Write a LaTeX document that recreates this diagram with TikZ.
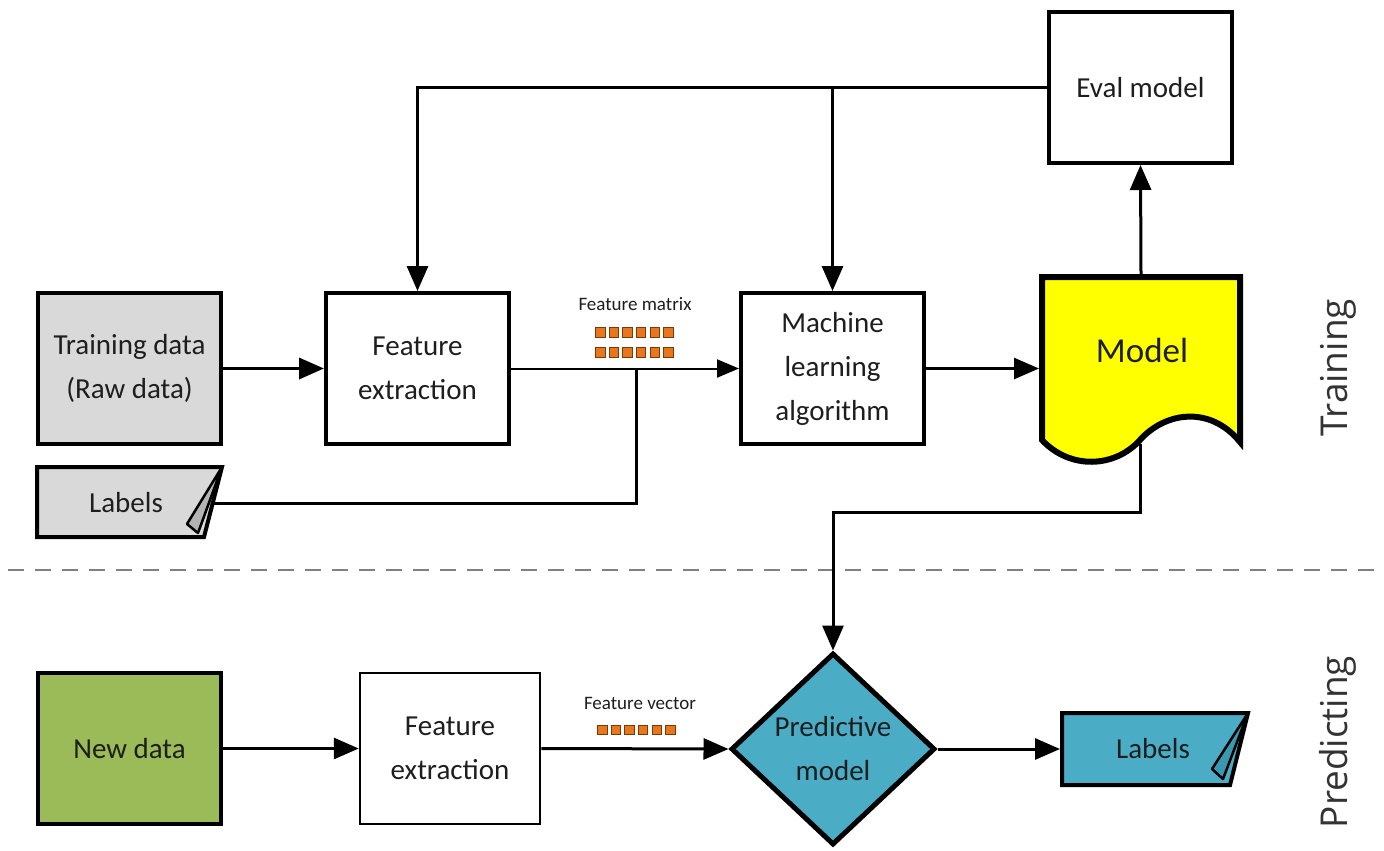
\documentclass[tikz,border=0pt]{standalone}
\usepackage{fontspec}
\setmainfont{Carlito}
\newfontfamily\sidefont{Open Sans}
\usetikzlibrary{arrows.meta,shapes.geometric}

\definecolor{txt}{HTML}{1E1E1E}
\definecolor{graybox}{HTML}{D9D9D9}
\definecolor{foldgray}{HTML}{B4B4B4}
\definecolor{greenbox}{HTML}{9BBB59}
\definecolor{bluebox}{HTML}{4BACC6}
\definecolor{foldblue}{HTML}{3A98B2}
\definecolor{modelyellow}{HTML}{FFFF00}
\definecolor{cellfill}{HTML}{E8761C}
\definecolor{celledge}{HTML}{7A3A08}
\definecolor{sidegray}{HTML}{333333}

\begin{document}
\begin{tikzpicture}[x=1pt,y=-1pt,
  box/.style={draw=black, line width=4pt, fill=white, minimum width=183pt,
    minimum height=151pt, inner sep=0pt, align=center,
    font=\fontsize{29}{44}\selectfont, text=txt},
  arr/.style={-{Triangle[length=25pt,width=21pt]}, line width=3pt},
  thinarr/.style={-{Triangle[length=22pt,width=18pt]}, line width=2pt},
  cell/.style={fill=cellfill, draw=celledge, line width=0.8pt},
  small/.style={font=\fontsize{19}{22}\selectfont, text=txt},
  side/.style={rotate=90, font=\sidefont\fontsize{37}{40}\selectfont, text=sidegray}]
\useasboundingbox (0,0) rectangle (1384,851);
\fill[white] (0,0) rectangle (1384,851);

% separator between training and predicting
\coordinate (sepL) at (8,570);
\coordinate (sepR) at (1384,570);
\draw[gray, line width=2pt, dash pattern=on 16pt off 11pt] (sepL) -- (sepR);

% ---- training row ----
\node[box, fill=graybox] (train) at (129.5,368.5) {Training data\\(Raw data)};
\node[box] (fe1) at (417.5,368.5) {Feature\\extraction};
\node[box] (ml) at (832.5,368.5) {Machine\\learning\\algorithm};
\node[box] (eval) at (1140.5,87.5) {Eval model};

% model document with wavy bottom
\draw[line width=6pt, fill=modelyellow, line join=miter]
  (1042,277) -- (1240,277) -- (1240,442)
  .. controls (1210,405) and (1165,412) .. (1140,440)
  .. controls (1115,468) and (1070,470) .. (1042,440) -- cycle;
\node[font=\fontsize{35}{40}\selectfont, text=txt] (model) at (1142,350) {Model};
\coordinate (modelT) at (1141,274);
\coordinate (modelL) at (1039,368.5);
\coordinate (modelB) at (1140,444);

% labels tag (training)
\draw[line width=4pt, fill=graybox, line join=miter]
  (37,467) -- (222,467) -- (204,537) -- (37,537) -- cycle;
\draw[line width=2.5pt, fill=foldgray, line join=round]
  (222,467) -- (187,524) -- (198,533) -- cycle;
\node[font=\fontsize{29}{44}\selectfont, text=txt] (labA) at (126,503) {Labels};
\coordinate (labAout) at (214,503);

% feature matrix
\node[small] (fmat) at (635,304) {Feature matrix};
\foreach \i in {0,...,5} {
  \draw[cell] (595.5+\i*13.6,327.5) rectangle ++(9.5,9.5);
  \draw[cell] (595.5+\i*13.6,347.5) rectangle ++(9.5,9.5);
}

% ---- predicting row ----
\node[box, fill=greenbox] (new) at (129.5,748.5) {New data};
\node[box, line width=2.5pt, minimum width=180pt] (fe2) at (450,748.5) {Feature\\extraction};
\node[diamond, draw=black, line width=5pt, fill=bluebox, aspect=1,
  minimum width=204pt, minimum height=192pt, inner sep=0pt, align=center,
  font=\fontsize{29}{44}\selectfont, text=txt] (pred) at (833,749) {Predictive\\model};

% labels tag (predicting)
\draw[line width=4pt, fill=bluebox, line join=miter]
  (1062,713) -- (1248,713) -- (1230,785) -- (1062,785) -- cycle;
\draw[line width=2.5pt, fill=foldblue, line join=round]
  (1248,713) -- (1212,769) -- (1223,779) -- cycle;
\node[font=\fontsize{29}{44}\selectfont, text=txt] (labB) at (1153,749) {Labels};
\coordinate (labBin) at (1060,749);

% feature vector
\node[small] (fvec) at (640,703) {Feature vector};
\foreach \i in {0,...,5} {
  \draw[cell] (597.5+\i*13.6,725) rectangle ++(9.5,9.5);
}

% side captions
\node[side] (trainlbl) at (1338,368) {Training};
\node[side] (predlbl) at (1338,742) {Predicting};

% ---- connectors ----
\coordinate (join) at (636,368.5);
\coordinate (fb) at (ml.north |- eval.west);
\coordinate (bend) at (1140,512);

\draw[arr, line width=3.5pt] (train.east) -- (fe1.west);
\draw[thinarr] (fe1.east) -- (ml.west);
\draw[line width=3pt] (labAout) -| (join);
\draw[arr, line width=2.5pt] (ml.east) -- (modelL);
\draw[arr] (modelT) -- (eval.south);
\draw[arr] (eval.west) -| (fe1.north);
\draw[arr] (fb) -- (ml.north);
\draw[arr] (modelB) -- (bend) -| (pred.north);

\draw[arr] (new.east) -- (fe2.west);
\draw[arr] (fe2.east) -- (pred.west);
\draw[arr] (pred.east) -- (labBin);
\end{tikzpicture}
\end{document}
